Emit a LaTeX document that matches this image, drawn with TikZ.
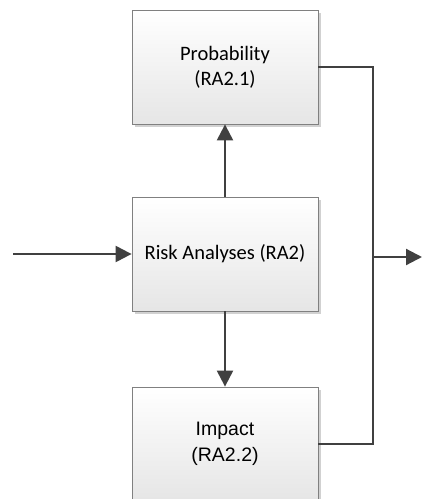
\documentclass[tikz,border=0pt]{standalone}
\usepackage{fontspec}
\setmainfont{Carlito}
\newfontfamily\arialfont{Liberation Sans}
\usetikzlibrary{arrows.meta,shadows}
\begin{document}
\begin{tikzpicture}[x=1pt,y=-1pt,
  procbox/.style={draw=black!50, line width=0.8pt, top color=white, bottom color=black!10,
    minimum width=186pt, minimum height=114pt, inner sep=0pt, align=center,
    font=\fontsize{20.5}{25}\selectfont,
    drop shadow={shadow xshift=2.5pt, shadow yshift=-2.5pt, fill=black!30, opacity=0.6}},
  flow/.style={draw=black!75, line width=2.2pt},
  flowarrow/.style={flow, -{Triangle[length=16pt,width=16pt]}}]
  \useasboundingbox (0,0) rectangle (422,499);
  \clip (0,0) rectangle (422,499);

  % process blocks
  \node[procbox] (prob) at (225,67) {Probability\\(RA2.1)};
  \node[procbox] (risk) at (225,254) {Risk Analyses (RA2)};
  \node[procbox, font=\arialfont\fontsize{19.5}{26}\selectfont] (imp) at (225,444) {Impact\\(RA2.2)};

  % free ends of the input and output arrows
  \coordinate (input) at (13,254);
  \coordinate (bus) at (373,257);
  \coordinate (output) at (422,257);

  % connectors
  \draw[flowarrow] (input) -- (risk.west);
  \draw[flowarrow] (risk.north) -- (prob.south);
  \draw[flowarrow] (risk.south) -- (imp.north);
  \draw[flow] (prob.east) -| (bus) |- (imp.east);
  \draw[flowarrow] (bus) -- (output);
\end{tikzpicture}
\end{document}
